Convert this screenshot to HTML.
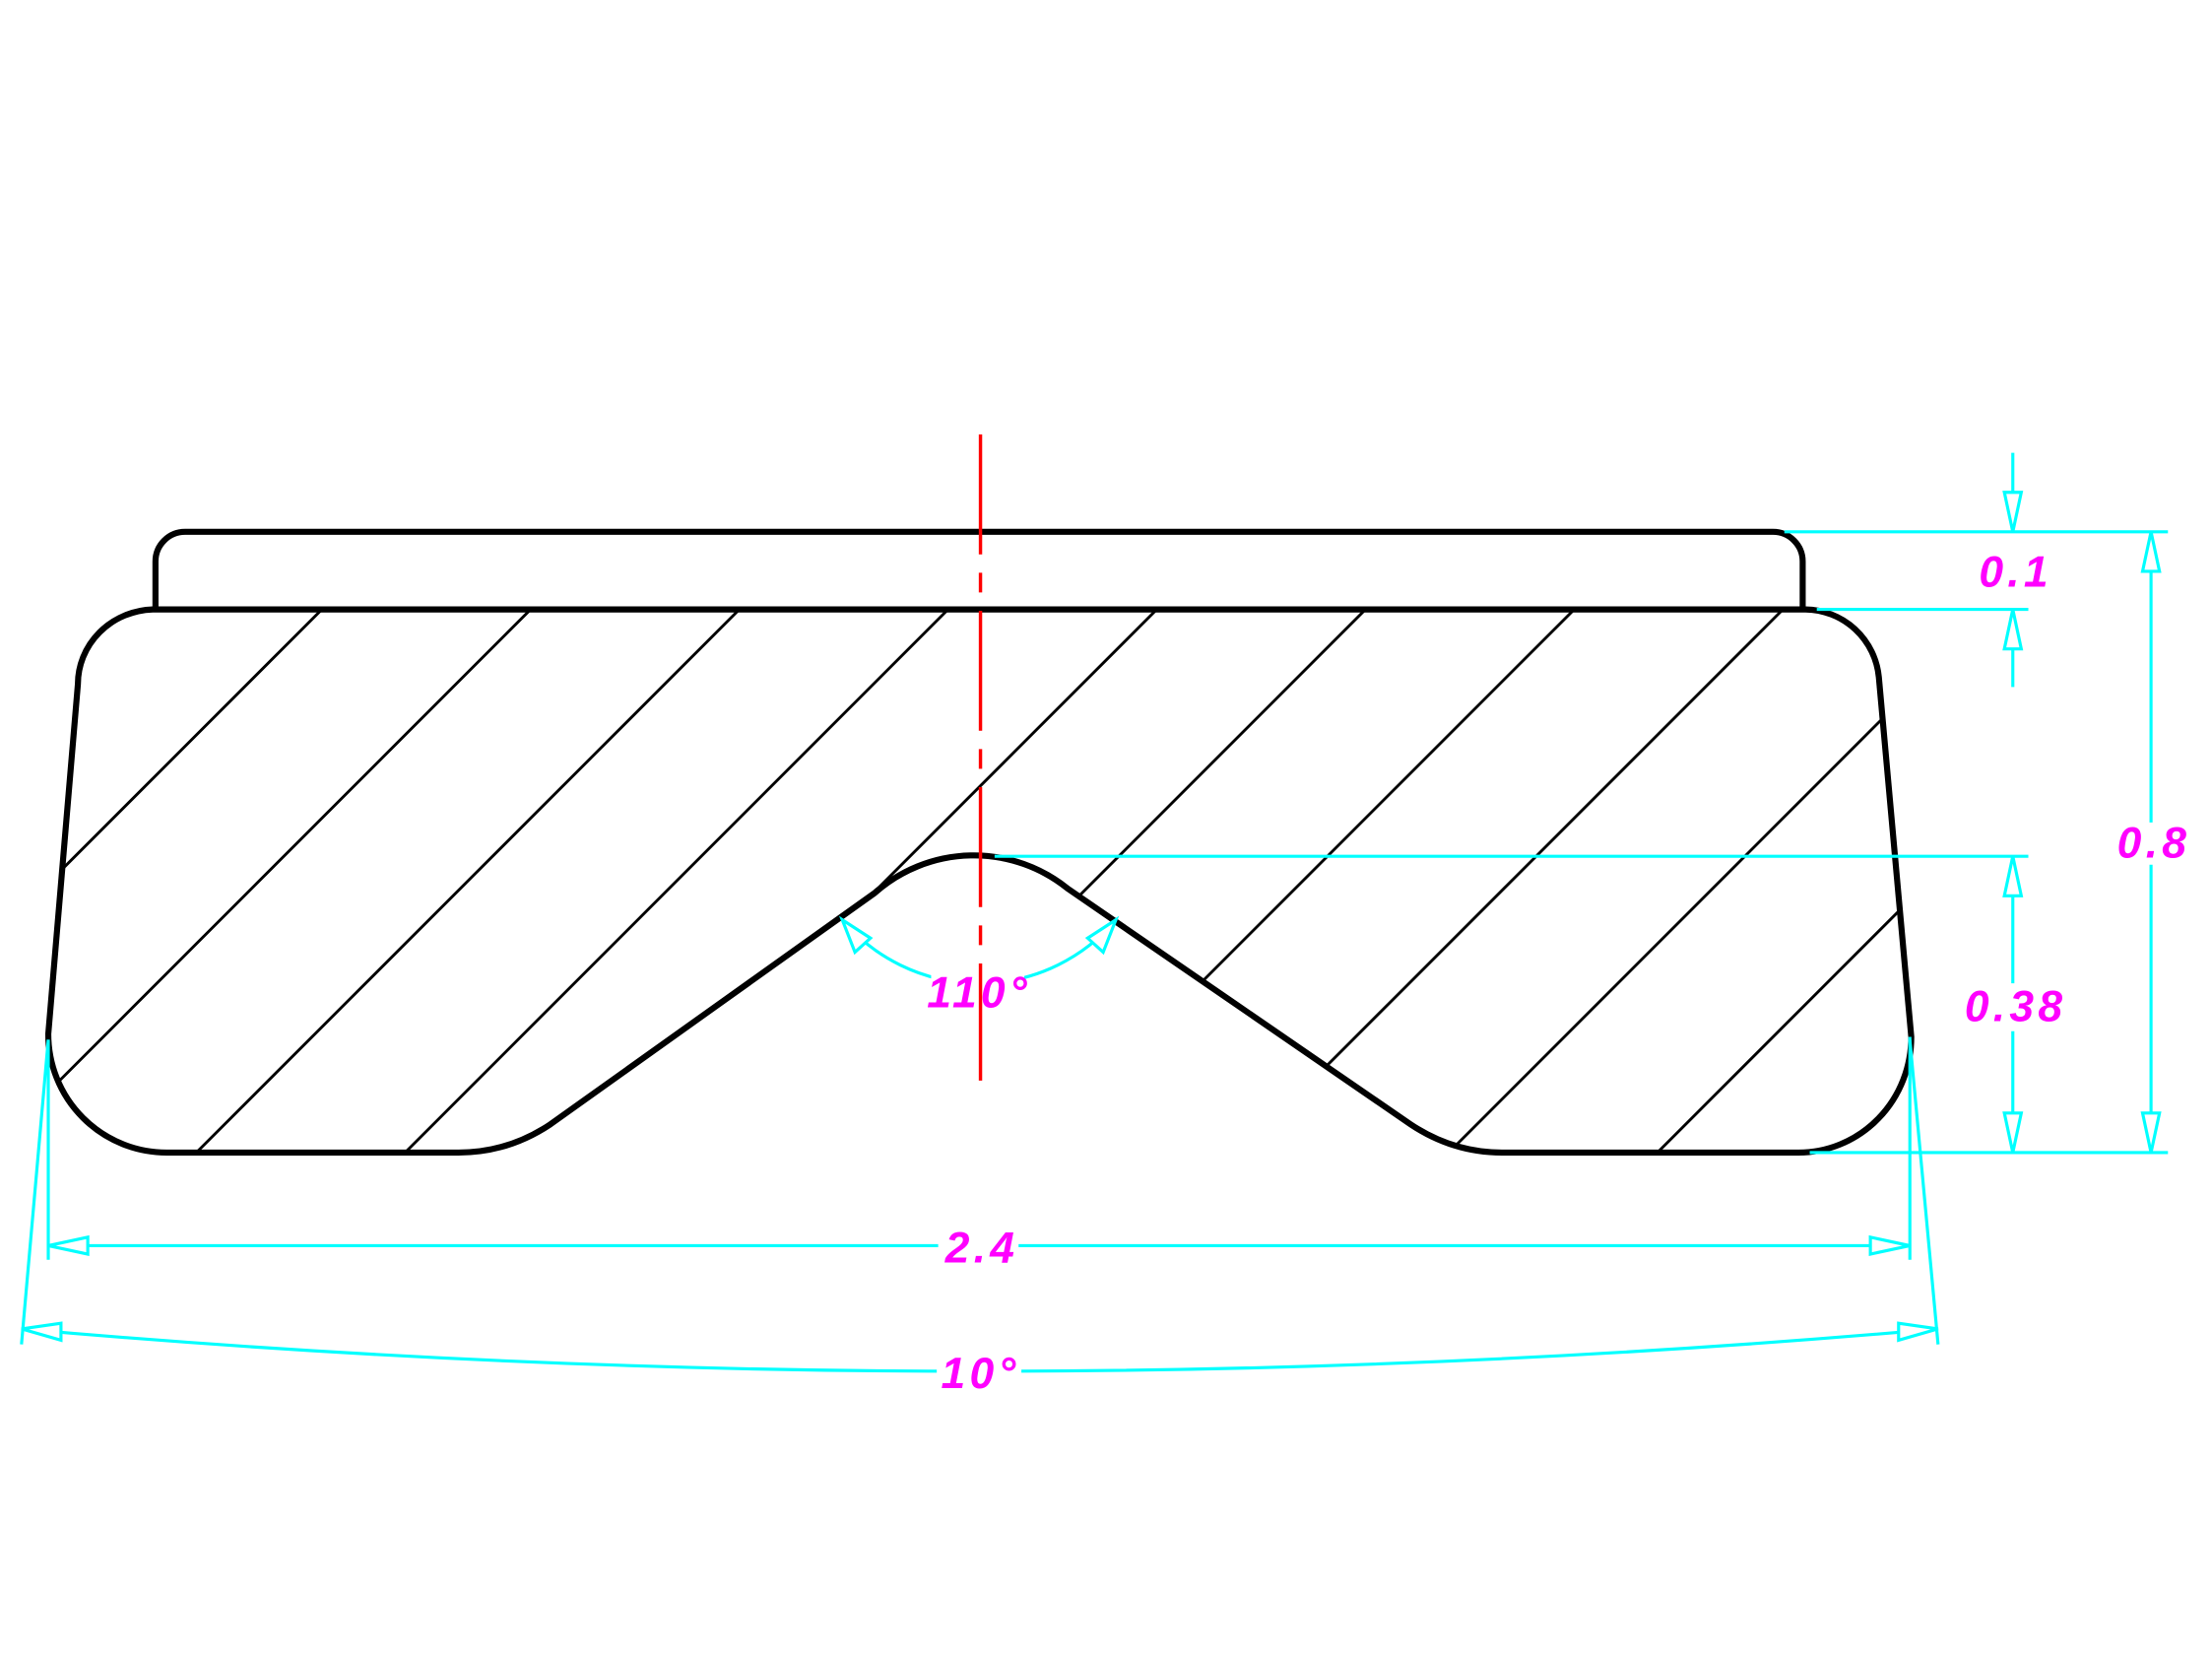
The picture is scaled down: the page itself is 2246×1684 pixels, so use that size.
<!DOCTYPE html>
<html><head><meta charset="utf-8"><style>
html,body{margin:0;padding:0;background:#fff;width:2246px;height:1684px;overflow:hidden;}
svg{display:block;}
text{font-family:"Liberation Sans",sans-serif;font-style:italic;font-weight:bold;fill:#ff00ff;font-size:31px;text-anchor:middle;letter-spacing:3px;}
</style></head><body>
<svg width="2246" height="1684" viewBox="0 0 1568 1176" xmlns="http://www.w3.org/2000/svg">
<defs>
<clipPath id="body">
<path d="M108,432 H1280 A53,53 0 0 1 1332,480 L1355,735 A80,82 0 0 1 1275,817 H1065 Q1030,817 1000,797 L757,630 A106,106 0 0 0 620,633 L390,797 Q360,817 325,817 H118 A84,84 0 0 1 34,733 L55,485 A55,53 0 0 1 108,432 Z"/>
</clipPath>
</defs>
<g clip-path="url(#body)" stroke="#000" stroke-width="2">
<line x1="660" y1="0" x2="0" y2="660"/>
<line x1="808" y1="0" x2="0" y2="808"/>
<line x1="956" y1="0" x2="0" y2="956"/>
<line x1="1104" y1="0" x2="0" y2="1104"/>
<line x1="1252" y1="0" x2="0" y2="1252"/>
<line x1="1400" y1="0" x2="0" y2="1400"/>
<line x1="1548" y1="0" x2="0" y2="1548"/>
<line x1="1696" y1="0" x2="0" y2="1696"/>
<line x1="1844" y1="0" x2="0" y2="1844"/>
<line x1="1992" y1="0" x2="0" y2="1992"/>
</g>
<g fill="none" stroke="#000" stroke-width="4.3" stroke-linejoin="round">
<path d="M108,432 H1280 A53,53 0 0 1 1332,480 L1355,735 A80,82 0 0 1 1275,817 H1065 Q1030,817 1000,797 L757,630 A106,106 0 0 0 620,633 L390,797 Q360,817 325,817 H118 A84,84 0 0 1 34,733 L55,485 A55,53 0 0 1 108,432 Z"/>
<path d="M110,432 V398 A21,21 0 0 1 131,377 H1257 A21,21 0 0 1 1278,398 V432"/>
</g>
<g fill="none" stroke="#00ffff" stroke-width="2.2">
<line x1="1265" y1="377" x2="1537" y2="377"/>
<line x1="1288" y1="432" x2="1438" y2="432"/>
<line x1="705" y1="607" x2="1438" y2="607"/>
<line x1="1283" y1="817" x2="1537" y2="817"/>
<line x1="1427" y1="321" x2="1427" y2="377"/>
<line x1="1427" y1="432" x2="1427" y2="487"/>
<line x1="1525" y1="377" x2="1525" y2="583"/>
<line x1="1525" y1="613" x2="1525" y2="817"/>
<line x1="1427" y1="607" x2="1427" y2="697"/>
<line x1="1427" y1="731" x2="1427" y2="817"/>
<line x1="34" y1="737" x2="34" y2="893"/>
<line x1="1354" y1="735" x2="1354" y2="893"/>
<line x1="34" y1="737" x2="15" y2="953"/>
<line x1="1354" y1="737" x2="1374" y2="953"/>
<line x1="34" y1="883" x2="665" y2="883"/>
<line x1="722" y1="883" x2="1354" y2="883"/>
<path d="M15,942 A7710,7710 0 0 0 1374,942"/>
<path d="M597,652 A127,127 0 0 0 791,652"/>
</g>
<g fill="#fff" stroke="#00ffff" stroke-width="2.2">
<polygon points="1427,377 1421,349 1433,349"/>
<polygon points="1427,432 1421,460 1433,460"/>
<polygon points="1525,377 1519,405 1531,405"/>
<polygon points="1525,817 1519,789 1531,789"/>
<polygon points="1427,607 1421,635 1433,635"/>
<polygon points="1427,817 1421,789 1433,789"/>
<polygon points="34,883 62,877 62,889"/>
<polygon points="1354,883 1326,877 1326,889"/>
<polygon points="15,942 43,938 43,950"/>
<polygon points="1374,942 1346,938 1346,950"/>
<polygon points="597,652 606,675 617,665"/>
<polygon points="791,652 782,675 771,665"/>
</g>
<g fill="#fff">
<rect x="664" y="955" width="60" height="30"/>
<rect x="660" y="686" width="66" height="30"/>
</g>
<text x="1429" y="416">0.1</text>
<text x="1527" y="608">0.8</text>
<text x="1429" y="724">0.38</text>
<text x="696" y="895">2.4</text>
<text x="695" y="984">10°</text>
<text x="694" y="714">110°</text>
<line x1="695" y1="308" x2="695" y2="766" stroke="#ff0000" stroke-width="2.4" stroke-dasharray="85 13 14 13"/>
</svg>
</body></html>
